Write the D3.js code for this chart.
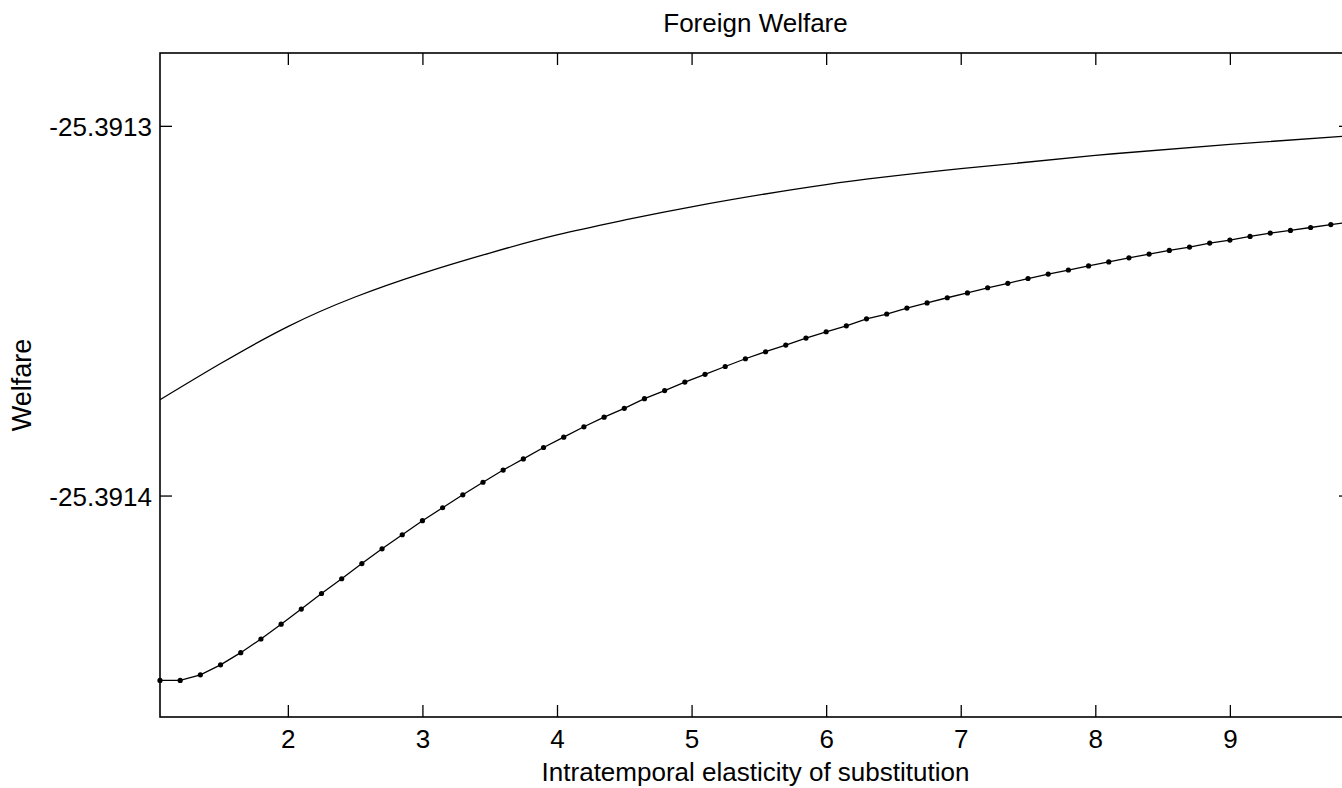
<!DOCTYPE html>
<html>
<head>
<meta charset="utf-8">
<script src="https://cdn.jsdelivr.net/npm/d3@7"></script>
<style>
  body { margin: 0; background: #fff; }
  svg { display: block; overflow: hidden; }
  text { font-family: "Liberation Sans", Arial, sans-serif; fill: #000; }
</style>
</head>
<body>
<div id="chart"></div>
<script>
var svgWidth = 1342;
var svgHeight = 788;

// plot box (right border sits just outside the picture, like the reference)
var margin = { top: 53, left: 160, right: 1351, bottom: 717 };

// dotted series: sampled grid
var elasticityDots = [1.05, 1.2, 1.35, 1.5, 1.65, 1.8, 1.95, 2.1, 2.25, 2.4,
  2.55, 2.7, 2.85, 3.0, 3.15, 3.3, 3.45, 3.6, 3.75, 3.9,
  4.05, 4.2, 4.35, 4.5, 4.65, 4.8, 4.95, 5.1, 5.25, 5.4,
  5.55, 5.7, 5.85, 6.0, 6.15, 6.3, 6.45, 6.6, 6.75, 6.9,
  7.05, 7.2, 7.35, 7.5, 7.65, 7.8, 7.95, 8.1, 8.25, 8.4,
  8.55, 8.7, 8.85, 9.0, 9.15, 9.3, 9.45, 9.6, 9.75, 9.9];

var welfareDots = [-25.3914500, -25.3914500, -25.3914485, -25.3914458, -25.3914425,
  -25.3914388, -25.3914348, -25.3914307, -25.3914265, -25.3914225,
  -25.3914184, -25.3914144, -25.3914106, -25.3914068, -25.3914033,
  -25.3913998, -25.3913964, -25.3913931, -25.3913901, -25.3913870,
  -25.3913842, -25.3913814, -25.3913788, -25.3913764, -25.3913738,
  -25.3913716, -25.3913693, -25.3913672, -25.3913651, -25.3913630,
  -25.3913611, -25.3913593, -25.3913574, -25.3913557, -25.3913541,
  -25.3913522, -25.3913509, -25.3913493, -25.3913479, -25.3913465,
  -25.3913452, -25.3913438, -25.3913426, -25.3913413, -25.3913401,
  -25.3913390, -25.3913379, -25.3913368, -25.3913357, -25.3913347,
  -25.3913337, -25.3913328, -25.3913317, -25.3913309, -25.3913299,
  -25.3913290, -25.3913283, -25.3913275, -25.3913267, -25.3913260];

// solid series (no markers)
var elasticityLine = [1.05, 1.5, 2.0, 2.5, 3.0, 3.5, 4.0, 4.5, 5.0, 6.0, 7.0, 8.0, 9.0, 9.9];
var welfareLine = [-25.3913741, -25.3913643, -25.3913543, -25.3913463, -25.3913399,
  -25.3913344, -25.3913295, -25.3913255, -25.3913219, -25.3913159,
  -25.3913116, -25.3913080, -25.3913050, -25.3913027];

var xTicks = [2, 3, 4, 5, 6, 7, 8, 9];
var yTicks = [-25.3914, -25.3913];

var xDomain = [1.05, 9.9];
var yDomain = [-25.3914599, -25.3912803];

var svg = d3.select("#chart")
  .append("svg")
  .attr("width", svgWidth)
  .attr("height", svgHeight);

var xScale = d3.scaleLinear().domain(xDomain).range([margin.left, margin.right]);
var yScale = d3.scaleLinear().domain(yDomain).range([margin.bottom, margin.top]);

// plain hyphen for the minus sign, as in the reference
var yFormat = d => d3.format(".4f")(d).replace("\u2212", "-");

// axes with inward ticks
var bottomAxis = d3.axisBottom(xScale).tickValues(xTicks).tickSize(-12).tickPadding(13)
  .tickFormat(d3.format("d"));
var topAxis = d3.axisTop(xScale).tickValues(xTicks).tickSize(-12).tickFormat("");
var leftAxis = d3.axisLeft(yScale).tickValues(yTicks).tickSize(-12).tickPadding(8)
  .tickFormat(yFormat);
var rightAxis = d3.axisRight(yScale).tickValues(yTicks).tickSize(-12).tickFormat("");

function styleAxis(g) {
  g.select(".domain").remove();
  g.selectAll(".tick line").attr("stroke", "#000").attr("stroke-width", 1.3);
  g.selectAll(".tick text").style("font-size", "26px").attr("fill", "#000");
}

svg.append("g").attr("transform", `translate(0, ${margin.bottom})`).call(bottomAxis).call(styleAxis);
svg.append("g").attr("transform", `translate(0, ${margin.top})`).call(topAxis).call(styleAxis);
svg.append("g").attr("transform", `translate(${margin.left}, 0)`).call(leftAxis).call(styleAxis)
  .selectAll(".tick text").attr("dy", "0.38em");
svg.append("g").attr("transform", `translate(${margin.right}, 0)`).call(rightAxis).call(styleAxis);

// frame
svg.append("rect")
  .attr("x", margin.left)
  .attr("y", margin.top)
  .attr("width", margin.right - margin.left)
  .attr("height", margin.bottom - margin.top)
  .attr("fill", "none")
  .attr("stroke", "#000")
  .attr("stroke-width", 1.6);

var lineData = elasticityLine.map((e, i) => ({ x: e, y: welfareLine[i] }));
var dotData = elasticityDots.map((e, i) => ({ x: e, y: welfareDots[i] }));

var line = d3.line()
  .x(d => xScale(d.x))
  .y(d => yScale(d.y))
  .curve(d3.curveNatural);

var dotLine = d3.line()
  .x(d => xScale(d.x))
  .y(d => yScale(d.y));

svg.append("path")
  .datum(lineData)
  .attr("d", line)
  .attr("fill", "none")
  .attr("stroke", "#000")
  .attr("stroke-width", 1.3);

svg.append("path")
  .datum(dotData)
  .attr("d", dotLine)
  .attr("fill", "none")
  .attr("stroke", "#000")
  .attr("stroke-width", 1.3);

svg.append("g")
  .selectAll("circle")
  .data(dotData)
  .enter()
  .append("circle")
  .attr("cx", d => xScale(d.x))
  .attr("cy", d => yScale(d.y))
  .attr("r", 2.6)
  .attr("fill", "#000");

// titles
var midX = (margin.left + margin.right) / 2;

svg.append("text")
  .attr("x", midX)
  .attr("y", 32)
  .attr("text-anchor", "middle")
  .style("font-size", "26px")
  .text("Foreign Welfare");

svg.append("text")
  .attr("x", midX)
  .attr("y", 781)
  .attr("text-anchor", "middle")
  .style("font-size", "26px")
  .text("Intratemporal elasticity of substitution");

svg.append("text")
  .attr("transform", `translate(31, ${(margin.top + margin.bottom) / 2}) rotate(-90)`)
  .attr("text-anchor", "middle")
  .style("font-size", "27px")
  .text("Welfare");
</script>
</body>
</html>
